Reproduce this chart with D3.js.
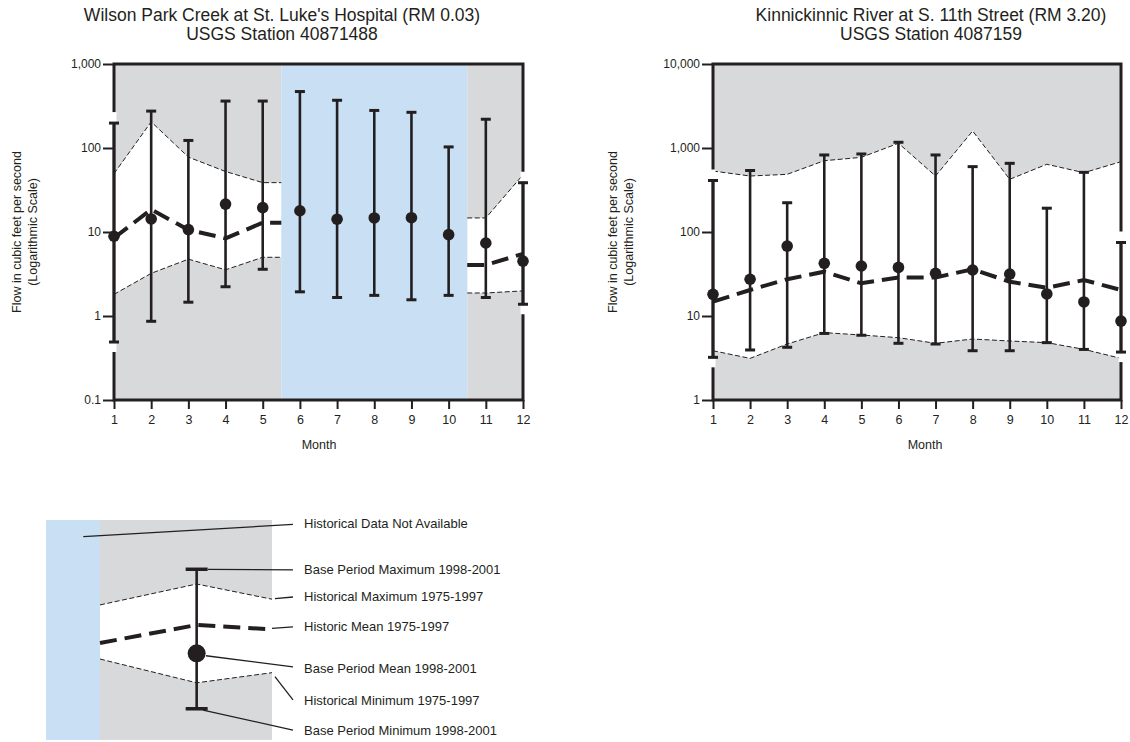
<!DOCTYPE html>
<html><head><meta charset="utf-8">
<script src="https://cdn.jsdelivr.net/npm/d3@7"></script>
<style>
body{margin:0;background:#fff;}
svg{display:block;font-family:"Liberation Sans",Arial,Helvetica,sans-serif;}
</style></head><body>
<svg id="c" width="1130" height="742"></svg>
<script>
// ---------------- DATA ----------------
const months = [1,2,3,4,5,6,7,8,9,10,11,12];

const wilsonTitle = ["Wilson Park Creek at St. Luke's Hospital (RM 0.03)", "USGS Station 40871488"];
const wilsonYTicks = [0.1, 1, 10, 100, 1000];
const wilsonBaseMax  = [198, 275, 123, 362, 362, 470, 370, 280, 266, 103, 220, 38.6];
const wilsonBaseMin  = [0.49, 0.865, 1.46, 2.23, 3.6, 1.94, 1.66, 1.76, 1.56, 1.76, 1.66, 1.38];
const wilsonBaseMean = [8.9, 14.3, 10.7, 21.5, 19.5, 17.9, 14.2, 14.7, 14.8, 9.3, 7.4, 4.5];
const wilsonHistMax  = [49.5, 205, 78, 52.5, 38.7, null, null, null, null, null, 14.7, 48];
const wilsonHistMean = [8.5, 18.5, 10.6, 8.4, 12.9, null, null, null, null, null, 4.05, 5.5];
const wilsonHistMin  = [1.81, 3.22, 4.75, 3.55, 5.0, null, null, null, null, null, 1.88, 1.99];

const kkTitle = ["Kinnickinnic River at S. 11th Street (RM 3.20)", "USGS Station 4087159"];
const kkYTicks = [1, 10, 100, 1000, 10000];
const kkBaseMax  = [410, 540, 223, 826, 849, 1170, 826, 600, 657, 192, 513, 75];
const kkBaseMin  = [3.22, 3.94, 4.24, 6.2, 5.9, 4.73, 4.64, 3.86, 3.86, 4.82, 4.0, 3.72];
const kkBaseMean = [18.1, 27.4, 68, 42.4, 39.4, 37.9, 32.2, 35.3, 31.6, 18.3, 14.7, 8.7];
const kkHistMax  = [532, 464, 486, 706, 774, 1138, 464, 1593, 424, 640, 508, 687];
const kkHistMean = [14.8, 20.4, 27.4, 33.7, 24.5, 28.8, 28.8, 36, 25.6, 21.7, 26.8, 20.4];
const kkHistMin  = [3.86, 3.13, 4.64, 6.34, 5.94, 5.52, 4.73, 5.32, 5.04, 4.82, 4.01, 3.13];

const yAxisTitle = ["Flow in cubic feet per second", "(Logarithmic Scale)"];
const xAxisTitle = "Month";

// Legend schematic (x: 0 = left of shaded band, 1 = right edge; y: 0..100 of legend height)
const legendLabels = ["Historical Data Not Available","Base Period Maximum 1998-2001","Historical Maximum 1975-1997","Historic Mean 1975-1997","Base Period Mean 1998-2001","Historical Minimum 1975-1997","Base Period Minimum 1998-2001"];
const legendLabelY = [98.4, 77.3, 65.1, 51.5, 32.3, 17.9, 4.2];
const legendProfileX = [0, 0.562, 1];
const legendHistMax  = [61.4, 70.9, 64.0];
const legendHistMean = [44.1, 52.3, 50.3];
const legendHistMin  = [36.8, 26.0, 30.6];
const legendBaseMax = 77.6, legendBaseMean = 39.4, legendBaseMin = 14.2;
const legendLeaderFrom = [[-0.097,92.4],[0.628,77.6],[1.017,64.3],[1.0,50.7],[0.616,38.3],[1.017,28.8],[0.599,13.6]];
const legendLeaderTo   = [[1.122,98.0],[1.122,77.3],[1.122,65.0],[1.122,51.4],[1.122,33.2],[1.122,18.2],[1.122,4.5]];

// ---------------- STYLE ----------------
const INK = "#231f20", GRAY = "#d8d9db", BLUE = "#c9dff3";
const svg = d3.select("#c");

function drawChart(cfg) {
  const g = svg.append("g");
  const x = d3.scaleLinear().domain([1, 12]).range([cfg.left, cfg.right]);
  const y = d3.scaleLog().domain([cfg.yTicks[0], cfg.yTicks[cfg.yTicks.length-1]]).range([400, 64]);
  const [yb, yt] = y.range();

  // runs of available historical data and gaps
  const runs = [], gaps = [];
  let cur = null, gcur = null;
  months.forEach((m, i) => {
    if (cfg.histMax[i] != null) { if (!cur) { cur = []; runs.push(cur); } cur.push(i); gcur = null; }
    else { if (!gcur) { gcur = []; gaps.push(gcur); } gcur.push(i); cur = null; }
  });
  const runPts = runs.map(r => {
    const pts = r.map(i => ({m: months[i], i}));
    if (r[0] > 0) pts.unshift({m: months[r[0]] - 0.5, i: r[0]});
    if (r[r.length-1] < months.length-1) pts.push({m: months[r[r.length-1]] + 0.5, i: r[r.length-1]});
    return pts;
  });

  // gray background for available runs
  runPts.forEach(pts => {
    g.append("rect").attr("x", x(pts[0].m)).attr("y", yt)
      .attr("width", x(pts[pts.length-1].m) - x(pts[0].m)).attr("height", yb - yt).attr("fill", GRAY);
    const area = d3.area().x(d => x(d.m)).y0(d => y(cfg.histMin[d.i])).y1(d => y(cfg.histMax[d.i]));
    g.append("path").attr("d", area(pts)).attr("fill", "#fff");
  });
  // blue: historical data not available
  gaps.forEach(gp => {
    const x0 = x(months[gp[0]] - 0.5), x1 = x(months[gp[gp.length-1]] + 0.5);
    g.append("rect").attr("x", x0).attr("y", yt).attr("width", x1 - x0).attr("height", yb - yt).attr("fill", BLUE);
  });
  // historical lines
  runPts.forEach(pts => {
    [cfg.histMax, cfg.histMin].forEach(arr => {
      g.append("path").attr("d", d3.line().x(d => x(d.m)).y(d => y(arr[d.i]))(pts))
        .attr("fill", "none").attr("stroke", INK).attr("stroke-width", 1).attr("stroke-dasharray", "5,2.5");
    });
    g.append("path").attr("d", d3.line().x(d => x(d.m)).y(d => y(cfg.histMean[d.i]))(pts))
      .attr("fill", "none").attr("stroke", INK).attr("stroke-width", 4).attr("stroke-dasharray", "17,8");
  });

  // axes
  const yAxis = d3.axisLeft(y).tickValues(cfg.yTicks).tickFormat(d3.format(",")).tickSize(11).tickPadding(2);
  const ya = g.append("g").attr("transform", `translate(${cfg.left},0)`).call(yAxis);
  const xAxis = d3.axisBottom(x).tickValues(months).tickFormat(d3.format("d")).tickSize(9).tickPadding(6);
  const xa = g.append("g").attr("transform", `translate(0,${yb})`).call(xAxis);
  [ya, xa].forEach(a => {
    a.select(".domain").remove();
    a.selectAll(".tick line").attr("stroke", INK).attr("stroke-width", 2);
    a.selectAll(".tick text").attr("fill", INK).style("font-size", "12px");
  });
  xa.selectAll(".tick text").style("font-size", "12.5px");

  // frame
  g.append("path").attr("d", `M${cfg.left},${yt}H${cfg.right}V${yb}H${cfg.left}Z`)
    .attr("fill", "none").attr("stroke", INK).attr("stroke-width", 3).attr("stroke-linecap", "square");

  // knockouts where edge-month error bars sit on the frame
  [0, months.length-1].forEach(i => {
    const xm = x(months[i]);
    const t = y(cfg.baseMax[i]), b = y(cfg.baseMin[i]);
    g.append("line").attr("x1", xm).attr("x2", xm).attr("y1", Math.max(yt + 2, t - 11)).attr("y2", t - 1)
      .attr("stroke", "#fff").attr("stroke-width", 5);
    g.append("line").attr("x1", xm).attr("x2", xm).attr("y1", b + 1).attr("y2", Math.min(yb - 2, b + 10))
      .attr("stroke", "#fff").attr("stroke-width", 5);
  });

  // error bars
  months.forEach((m, i) => {
    const xm = x(m);
    g.append("line").attr("x1", xm).attr("x2", xm).attr("y1", y(cfg.baseMax[i])).attr("y2", y(cfg.baseMin[i]))
      .attr("stroke", INK).attr("stroke-width", 2.6);
    [cfg.baseMax[i], cfg.baseMin[i]].forEach(v => {
      g.append("line").attr("x1", xm - 5).attr("x2", xm + 5).attr("y1", y(v)).attr("y2", y(v))
        .attr("stroke", INK).attr("stroke-width", 3);
    });
  });
  g.selectAll("circle.mean").data(months).enter().append("circle")
    .attr("cx", d => x(d)).attr("cy", (d, i) => y(cfg.baseMean[i])).attr("r", 5.8).attr("fill", INK);

  // titles
  cfg.title.forEach((t, k) => {
    svg.append("text").attr("x", cfg.titleX).attr("y", k === 0 ? 21 : 40).attr("text-anchor", "middle")
      .attr("fill", INK).style("font-size", "17.5px").text(t);
  });
  yAxisTitle.forEach((t, k) => {
    svg.append("text").attr("transform", `translate(${cfg.yTitleX + k*16},232) rotate(-90)`)
      .attr("text-anchor", "middle").attr("dy", "0.35em").attr("fill", INK).style("font-size", "12.5px").text(t);
  });
  svg.append("text").attr("x", cfg.monthX).attr("y", 445).attr("dy", "0.35em").attr("text-anchor", "middle")
    .attr("fill", INK).style("font-size", "12.5px").text(xAxisTitle);
}

drawChart({left: 114, right: 523, yTicks: wilsonYTicks, title: wilsonTitle, titleX: 282, yTitleX: 17, monthX: 319,
  baseMax: wilsonBaseMax, baseMin: wilsonBaseMin, baseMean: wilsonBaseMean,
  histMax: wilsonHistMax, histMean: wilsonHistMean, histMin: wilsonHistMin});
drawChart({left: 713, right: 1121, yTicks: kkYTicks, title: kkTitle, titleX: 931, yTitleX: 613, monthX: 925,
  baseMax: kkBaseMax, baseMin: kkBaseMin, baseMean: kkBaseMean,
  histMax: kkHistMax, histMean: kkHistMean, histMin: kkHistMin});

// ---------------- LEGEND ----------------
(function legend() {
  const lx = d3.scaleLinear().domain([0, 1]).range([100, 272]);
  const ly = d3.scaleLinear().domain([0, 100]).range([740, 520]);
  const g = svg.append("g");
  g.append("rect").attr("x", lx(-0.314)).attr("y", ly(100)).attr("width", lx(0) - lx(-0.314)).attr("height", ly(0) - ly(100)).attr("fill", BLUE);
  g.append("rect").attr("x", lx(0)).attr("y", ly(100)).attr("width", lx(1) - lx(0)).attr("height", ly(0) - ly(100)).attr("fill", GRAY);
  const idx = legendProfileX.map((d, i) => i);
  g.append("path").attr("d", d3.area().x(i => lx(legendProfileX[i])).y0(i => ly(legendHistMin[i])).y1(i => ly(legendHistMax[i]))(idx)).attr("fill", "#fff");
  [legendHistMax, legendHistMin].forEach(arr => {
    g.append("path").attr("d", d3.line().x(i => lx(legendProfileX[i])).y(i => ly(arr[i]))(idx))
      .attr("fill", "none").attr("stroke", INK).attr("stroke-width", 1).attr("stroke-dasharray", "5,2.5");
  });
  g.append("path").attr("d", d3.line().x(i => lx(legendProfileX[i])).y(i => ly(legendHistMean[i]))(idx))
    .attr("fill", "none").attr("stroke", INK).attr("stroke-width", 4).attr("stroke-dasharray", "17,8");
  // leaders
  legendLeaderFrom.forEach((p, k) => {
    const q = legendLeaderTo[k];
    g.append("line").attr("x1", lx(p[0])).attr("y1", ly(p[1])).attr("x2", lx(q[0])).attr("y2", ly(q[1]))
      .attr("stroke", INK).attr("stroke-width", 1.3);
  });
  const bx = lx(legendProfileX[1]);
  g.append("line").attr("x1", bx).attr("x2", bx).attr("y1", ly(legendBaseMax)).attr("y2", ly(legendBaseMin)).attr("stroke", INK).attr("stroke-width", 2.6);
  [legendBaseMax, legendBaseMin].forEach(v => {
    g.append("line").attr("x1", bx - 11).attr("x2", bx + 11).attr("y1", ly(v)).attr("y2", ly(v)).attr("stroke", INK).attr("stroke-width", 3.5);
  });
  g.append("circle").attr("cx", bx).attr("cy", ly(legendBaseMean)).attr("r", 9).attr("fill", INK);
  legendLabels.forEach((t, k) => {
    g.append("text").attr("x", 304).attr("y", ly(legendLabelY[k])).attr("dy", "0.35em")
      .attr("fill", INK).style("font-size", "13px").text(t);
  });
})();
</script>
</body></html>
